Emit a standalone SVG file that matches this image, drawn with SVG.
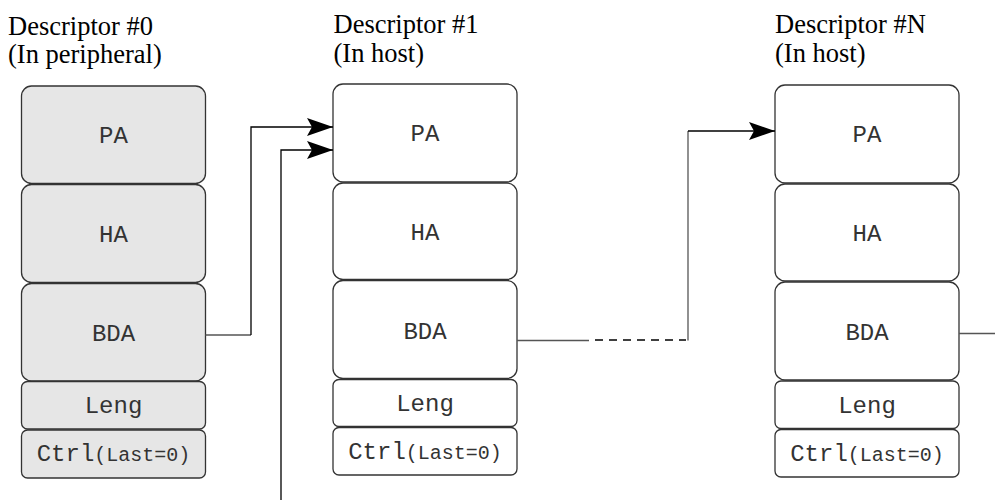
<svg xmlns="http://www.w3.org/2000/svg" width="995" height="501" viewBox="0 0 995 501">
<style>
.lbl{font-family:"Liberation Serif","Times New Roman",serif;font-size:26.5px;fill:#000}
.box{stroke:#333;stroke-width:1.3}
.periph{fill:#e6e6e6}
.host{fill:#fff}
.mono{font-family:"Liberation Mono","Courier New",monospace;font-size:24px;fill:#333;text-anchor:middle}
.small{font-size:20px}
.conn{fill:none;stroke:#000;stroke-width:1.3}
.gray{stroke:#555}
.dash{stroke-dasharray:8 6}
</style>
<defs>
<marker id="arr" viewBox="0 0 26 18" refX="26" refY="9" markerWidth="26" markerHeight="18" markerUnits="userSpaceOnUse" orient="auto">
<path d="M0,0 L26,9 L0,18 L5,9 Z" fill="#000"/>
</marker>
</defs>
<rect width="995" height="501" fill="#fff"/>

<g id="desc0">
<text class="lbl" x="8" y="35">Descriptor #0</text>
<text class="lbl" x="8" y="63">(In peripheral)</text>
<g id="desc0-pa"><rect class="box periph" x="21.5" y="86" width="184" height="97.5" rx="10"/><text class="mono" x="113.5" y="143">PA</text></g>
<g id="desc0-ha"><rect class="box periph" x="21.5" y="184.5" width="184" height="98" rx="10"/><text class="mono" x="113.5" y="241.5">HA</text></g>
<g id="desc0-bda"><rect class="box periph" x="21.5" y="283.5" width="184" height="97.5" rx="10"/><text class="mono" x="113.5" y="341">BDA</text></g>
<g id="desc0-leng"><rect class="box periph" x="21.5" y="381.5" width="184" height="47.5" rx="6"/><text class="mono" x="113.5" y="413">Leng</text></g>
<g id="desc0-ctrl"><rect class="box periph" x="21.5" y="430" width="184" height="48" rx="6"/><text class="mono" x="113.5" y="461">Ctrl<tspan class="small">(Last=0)</tspan></text></g>
</g>

<g id="desc1">
<text class="lbl" x="333.5" y="33">Descriptor #1</text>
<text class="lbl" x="333.5" y="62">(In host)</text>
<g id="desc1-pa"><rect class="box host" x="333" y="84" width="184" height="98" rx="10"/><text class="mono" x="425" y="141">PA</text></g>
<g id="desc1-ha"><rect class="box host" x="333" y="183" width="184" height="96.5" rx="10"/><text class="mono" x="425" y="239.5">HA</text></g>
<g id="desc1-bda"><rect class="box host" x="333" y="280.5" width="184" height="98" rx="10"/><text class="mono" x="425" y="338.5">BDA</text></g>
<g id="desc1-leng"><rect class="box host" x="333" y="379.5" width="184" height="47" rx="6"/><text class="mono" x="425" y="411">Leng</text></g>
<g id="desc1-ctrl"><rect class="box host" x="333" y="427.5" width="184" height="47.5" rx="6"/><text class="mono" x="425" y="459">Ctrl<tspan class="small">(Last=0)</tspan></text></g>
</g>

<g id="descN">
<text class="lbl" x="775" y="33">Descriptor #N</text>
<text class="lbl" x="775" y="62">(In host)</text>
<g id="descN-pa"><rect class="box host" x="775" y="85" width="184" height="98" rx="10"/><text class="mono" x="867" y="142">PA</text></g>
<g id="descN-ha"><rect class="box host" x="775" y="184" width="184" height="97" rx="10"/><text class="mono" x="867" y="240.5">HA</text></g>
<g id="descN-bda"><rect class="box host" x="775" y="282" width="184" height="98" rx="10"/><text class="mono" x="867" y="340">BDA</text></g>
<g id="descN-leng"><rect class="box host" x="775" y="381" width="184" height="47.5" rx="6"/><text class="mono" x="867" y="412.5">Leng</text></g>
<g id="descN-ctrl"><rect class="box host" x="775" y="429.5" width="184" height="47.5" rx="6"/><text class="mono" x="867" y="461">Ctrl<tspan class="small">(Last=0)</tspan></text></g>
</g>

<g id="connectors">
<path class="conn gray" d="M205.5,335 H251"/>
<path class="conn" d="M251,335 V127 H333" marker-end="url(#arr)"/>
<path class="conn" d="M281,500 V150 H333" marker-end="url(#arr)"/>
<path class="conn gray" d="M517,340.5 H589"/>
<path class="conn dash" d="M595,340 H686"/>
<path class="conn gray" d="M688,340.5 V131"/>
<path class="conn" d="M688,131 H775" marker-end="url(#arr)"/>
<path class="conn gray" d="M959,333.5 H995"/>
</g>
</svg>
